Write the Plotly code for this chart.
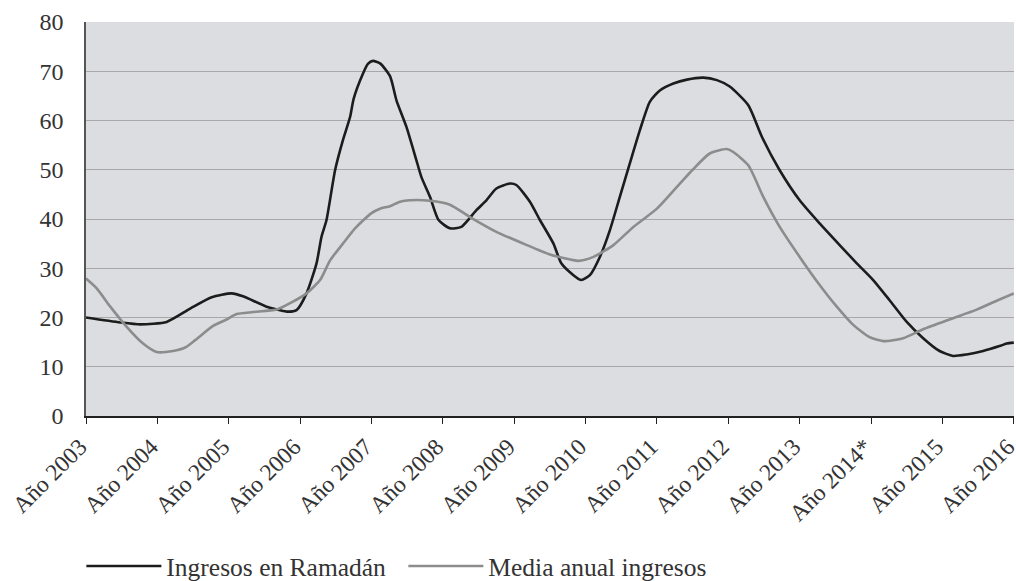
import plotly.graph_objects as go

# Category labels on the x axis (one per year)
years = list(range(2003, 2017))
year_labels = ["Año 2003", "Año 2004", "Año 2005", "Año 2006", "Año 2007", "Año 2008",
               "Año 2009", "Año 2010", "Año 2011", "Año 2012", "Año 2013", "Año 2014*",
               "Año 2015", "Año 2016"]

# Series 1: Ingresos en Ramadán (fractional year, value)
ramadan_x = [2003.0, 2003.48, 2003.76, 2004.13, 2004.46, 2004.76, 2005.04, 2005.2, 2005.53,
             2005.81, 2005.95, 2006.09, 2006.23, 2006.30, 2006.37, 2006.49, 2006.6, 2006.7,
             2006.75, 2006.88, 2006.95, 2007.02, 2007.12, 2007.26, 2007.35, 2007.49, 2007.63,
             2007.70, 2007.82, 2007.94, 2008.10, 2008.26, 2008.47, 2008.61, 2008.75, 2008.94,
             2009.03, 2009.22, 2009.36, 2009.55, 2009.66, 2009.83, 2009.94, 2010.06, 2010.2,
             2010.34, 2010.48, 2010.62, 2010.76, 2010.90, 2011.04, 2011.23, 2011.42, 2011.65,
             2011.84, 2012.02, 2012.28, 2012.47, 2012.72, 2013.0, 2013.28, 2013.56, 2013.80,
             2014.03, 2014.26, 2014.5, 2014.73, 2014.96, 2015.15, 2015.34, 2015.57, 2015.80,
             2015.90, 2016.0]
ramadan_y = [20.0, 19.0, 18.6, 19.1, 21.8, 24.1, 24.9, 24.3, 22.2,
             21.2, 21.5, 24.9, 31.0, 36.4, 39.8, 49.9, 56.0, 60.7,
             64.4, 69.5, 71.5, 72.1, 71.6, 69.0, 64.1, 58.7, 51.9,
             48.5, 44.5, 39.8, 38.1, 38.4, 41.8, 43.8, 46.2, 47.2,
             46.9, 43.5, 39.8, 35.0, 31.0, 28.6, 27.6, 28.6, 32.3,
             37.7, 44.5, 51.3, 58.0, 63.8, 66.1, 67.5, 68.3, 68.7,
             68.2, 66.9, 63.1, 56.7, 49.9, 43.8, 39.1, 34.7, 31.0,
             27.6, 23.5, 19.1, 15.8, 13.2, 12.2, 12.5, 13.2, 14.2,
             14.7, 14.9]

# Series 2: Media anual ingresos
media_x = [2003.0, 2003.15, 2003.34, 2003.57, 2003.80, 2003.99, 2004.22, 2004.39, 2004.53,
           2004.78, 2004.97, 2005.11, 2005.34, 2005.67, 2005.86, 2006.09, 2006.28, 2006.42,
           2006.6, 2006.77, 2007.0, 2007.12, 2007.26, 2007.4, 2007.54, 2007.82, 2008.10,
           2008.38, 2008.75, 2009.13, 2009.5, 2009.9, 2010.11, 2010.39, 2010.67, 2011.0,
           2011.28, 2011.50, 2011.74, 2011.98, 2012.07, 2012.28, 2012.49, 2012.72, 2013.0,
           2013.28, 2013.52, 2013.75, 2013.98, 2014.17, 2014.45, 2014.73, 2015.1, 2015.48,
           2015.76, 2016.0]
media_y = [27.9, 25.9, 22.2, 18.1, 14.7, 13.0, 13.2, 13.9, 15.4,
           18.3, 19.6, 20.7, 21.1, 21.6, 22.9, 24.9, 27.6, 31.6,
           35.0, 38.1, 41.2, 42.1, 42.6, 43.5, 43.8, 43.7, 42.9,
           40.4, 37.4, 35.0, 32.8, 31.5, 32.3, 34.7, 38.4, 42.1,
           46.5, 50.0, 53.3, 54.2, 53.6, 50.9, 44.5, 38.4, 32.3,
           26.6, 22.2, 18.5, 16.0, 15.2, 15.8, 17.6, 19.6, 21.6,
           23.4, 24.9]

y_ticks = [0, 10, 20, 30, 40, 50, 60, 70, 80]

font_family = "Liberation Serif, Times New Roman, serif"
text_color = "#333333"

fig = go.Figure()
fig.add_trace(go.Scatter(x=ramadan_x, y=ramadan_y, mode="lines", name="Ingresos en Ramadán",
                         line=dict(color="#1c1c1c", width=2.6, shape="spline", smoothing=0.6)))
fig.add_trace(go.Scatter(x=media_x, y=media_y, mode="lines", name="Media anual ingresos",
                         line=dict(color="#8c8c8c", width=2.6, shape="spline", smoothing=0.6)))

fig.update_layout(
    width=1016, height=581,
    margin=dict(l=86, r=2, t=22, b=165, autoexpand=False),
    paper_bgcolor="white",
    plot_bgcolor="#dcdde0",
    font=dict(family=font_family, color=text_color, size=24),
    showlegend=True,
    legend=dict(orientation="h", x=-0.005, xanchor="left", y=-0.322, yanchor="top",
                font=dict(size=25.5, color=text_color), itemwidth=75,
                entrywidth=232, entrywidthmode="pixels",
                bgcolor="rgba(0,0,0,0)", traceorder="normal"),
    xaxis=dict(range=[2003, 2016.003], tickmode="array", tickvals=years, ticktext=year_labels,
               tickangle=-45, ticks="outside", ticklen=6, tickcolor="#222222", tickwidth=1.3,
               showline=True, linecolor="#222222", linewidth=1.5, showgrid=False,
               zeroline=False, automargin=False, ticklabeloverflow="allow",
               ticklabelstandoff=0, ticklabelshift=-6,
               tickfont=dict(size=23.5, color=text_color)),
    yaxis=dict(range=[0, 80], tickmode="array", tickvals=y_ticks,
               showline=True, linecolor="#555555", linewidth=1.5, showgrid=True,
               gridcolor="#a8a8a8", gridwidth=1, zeroline=False, ticks="", automargin=False,
               ticklabelstandoff=16, tickfont=dict(size=24, color=text_color)),
)

page_fix = ("document.body.style.margin='0';document.body.style.padding='0';"
            "document.body.style.overflow='hidden';"
            "document.documentElement.style.overflow='hidden';"
            "Plotly.relayout('{plot_id}', {width: 1016, height: 581});")

fig.write_html("out.html", post_script=page_fix, config={"displayModeBar": False})
